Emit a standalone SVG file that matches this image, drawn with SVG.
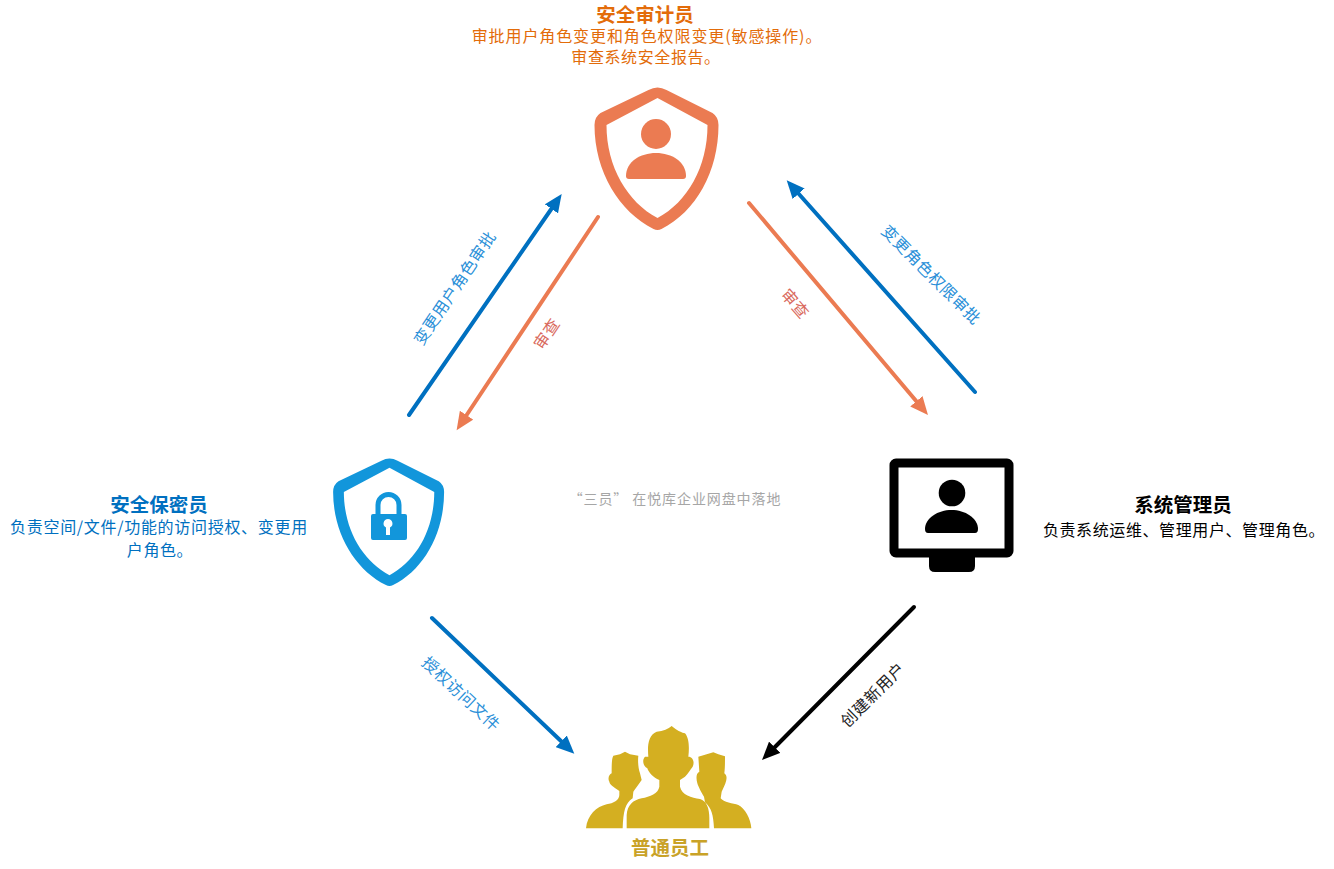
<svg xmlns="http://www.w3.org/2000/svg" width="1334" height="869" viewBox="0 0 1334 869">
<style>
text{font-family:"Noto Sans CJK SC","Noto Sans",sans-serif;text-anchor:middle;font-size:16px;font-weight:400;letter-spacing:.6px}
.t{font-size:19.500px;font-weight:700;letter-spacing:0}
.c{fill:none;stroke-width:4;stroke-linecap:round}
.lb{fill:#2a8fd8}
</style>
<defs>
<path id="shield" fill-rule="evenodd" d="M-9 3Q0 -2 9 3L55 26Q61 30 61 38C61 85 38 125 4 142Q0 144 -4 142C-38 125 -63 85 -63 38Q-63 30 -57 26ZM0 11L-51 38C-51 80 -30 115 0 131C30 115 50 80 50 38Z"/>
<marker id="mb" markerUnits="userSpaceOnUse" markerWidth="20" markerHeight="16" refX="1" refY="8" orient="auto"><path d="M0 0L18 8L0 16Z" fill="#0070c0"/></marker>
<marker id="mo" markerUnits="userSpaceOnUse" markerWidth="20" markerHeight="16" refX="1" refY="8" orient="auto"><path d="M0 0L18 8L0 16Z" fill="#eb7b52"/></marker>
<marker id="mk" markerUnits="userSpaceOnUse" markerWidth="20" markerHeight="16" refX="1" refY="8" orient="auto"><path d="M0 0L18 8L0 16Z" fill="#000"/></marker>
</defs>
<rect width="1334" height="869" fill="#fff"/>
<g id="connectors">
<path class="c" stroke="#0070c0" marker-end="url(#mb)" d="M409 415L552 208"/>
<path class="c" stroke="#eb7b52" marker-end="url(#mo)" d="M598 217L466 416"/>
<path class="c" stroke="#eb7b52" marker-end="url(#mo)" d="M749 203L917 402"/>
<path class="c" stroke="#0070c0" marker-end="url(#mb)" d="M975 392L798 193"/>
<path class="c" stroke="#0070c0" marker-end="url(#mb)" d="M432 618L562 742"/>
<path class="c" stroke="#000" marker-end="url(#mk)" d="M914 607L774 748"/>
<text class="lb" transform="translate(455 288) rotate(-56)" y="5.500">变更用户角色审批</text>
<text fill="#d9695c" transform="translate(547 334) rotate(-56)" y="5.500">审查</text>
<text fill="#d9695c" transform="translate(795 304) rotate(49)" y="5.500">审查</text>
<text class="lb" transform="translate(931 275) rotate(45)" y="5.500">变更角色权限审批</text>
<text class="lb" transform="translate(461 694) rotate(43)" y="5.500">授权访问文件</text>
<text fill="#222" transform="translate(873 695) rotate(-45)" y="5.500">创建新用户</text>
</g>
<g id="auditor">
<use href="#shield" transform="translate(657.500 87)" fill="#eb7b52"/>
<circle cx="656" cy="134" r="15" fill="#eb7b52"/>
<path d="M626 176C626 162 640 153 656 153C672 153 686 162 686 176Q686 179 683 179L629 179Q626 179 626 176Z" fill="#eb7b52"/>
<text class="t" x="645" y="22" fill="#e36c0a">安全审计员</text>
<text x="647" y="42" fill="#e36c0a" style="letter-spacing:.9px">审批用户角色变更和角色权限变更(敏感操作)。</text>
<text x="646" y="63" fill="#e36c0a">审查系统安全报告。</text>
</g>
<g id="secrecy">
<use href="#shield" transform="translate(389.500 458) scale(.895)" fill="#1296db"/>
<path d="M378 515V505a10.500 10.500 0 0 1 21 0V515" fill="none" stroke="#1296db" stroke-width="5"/>
<path fill-rule="evenodd" d="M373 514H405Q407 514 407 516V538Q407 540 405 540H373Q371 540 371 538V516Q371 514 373 514ZM388 519a4.500 4.500 0 0 0 -2 8.500V535H390V527.500a4.500 4.500 0 0 0 -2 -8.500Z" fill="#1296db"/>
<text class="t" x="159" y="512" fill="#0070c0">安全保密员</text>
<text x="159" y="533" fill="#0070c0" style="letter-spacing:.7px">负责空间/文件/功能的访问授权、变更用</text>
<text x="160" y="556" fill="#0070c0">户角色。</text>
</g>
<g id="sysadmin">
<rect x="894" y="463" width="115" height="90" rx="2" fill="none" stroke="#000" stroke-width="9"/>
<path d="M929 557H975V566Q975 572 969 572H935Q929 572 929 566Z" fill="#000"/>
<circle cx="952" cy="493" r="13.300"/>
<path d="M925 529C925 518 938 510 951.500 510C965 510 978 518 978 529Q978 533 975 533L928 533Q925 533 925 529Z"/>
<text class="t" x="1183" y="512" fill="#000">系统管理员</text>
<text x="1184" y="536" fill="#000">负责系统运维、管理用户、管理角色。</text>
</g>
<g id="staff">
<g transform="translate(570 715) scale(.33333)" fill="#d4af21">
<path d="M170 340L170 300C172 270 190 255 215 250C240 245 265 235 268 215L268 195C250 190 235 170 232 160C220 155 215 135 225 125L235 125C232 90 235 60 260 50C280 48 295 42 305 33C315 40 325 50 345 55C358 70 358 100 355 125C368 125 375 140 368 155C360 165 355 175 345 185L330 195L330 215C335 240 365 248 390 252C410 258 418 280 418 310L418 340Z"/>
<path d="M48 340C52 300 80 275 110 268C130 265 148 255 148 240L148 228C130 215 120 210 118 200C112 190 118 178 125 175C125 150 125 130 130 122L150 118L165 110L180 118L205 122C203 140 205 160 210 175L215 195C205 210 195 222 190 230L188 250C165 265 160 290 158 340Z"/>
<path d="M432 340C430 300 425 280 405 262L402 245C395 235 385 215 382 205C378 190 378 175 388 170L385 125L410 118L430 112L445 118L465 124C465 140 465 160 463 175C475 185 470 200 455 230L452 250C460 262 490 265 505 270C525 280 542 310 544 340Z"/>
</g>
<text class="t" x="670" y="855" fill="#c9a227">普通员工</text>
</g>
<g id="caption"><text x="675" y="504" fill="#a6a6a6" style="font-size:14px;letter-spacing:.9px">“三员” 在悦库企业网盘中落地</text></g>
</svg>
